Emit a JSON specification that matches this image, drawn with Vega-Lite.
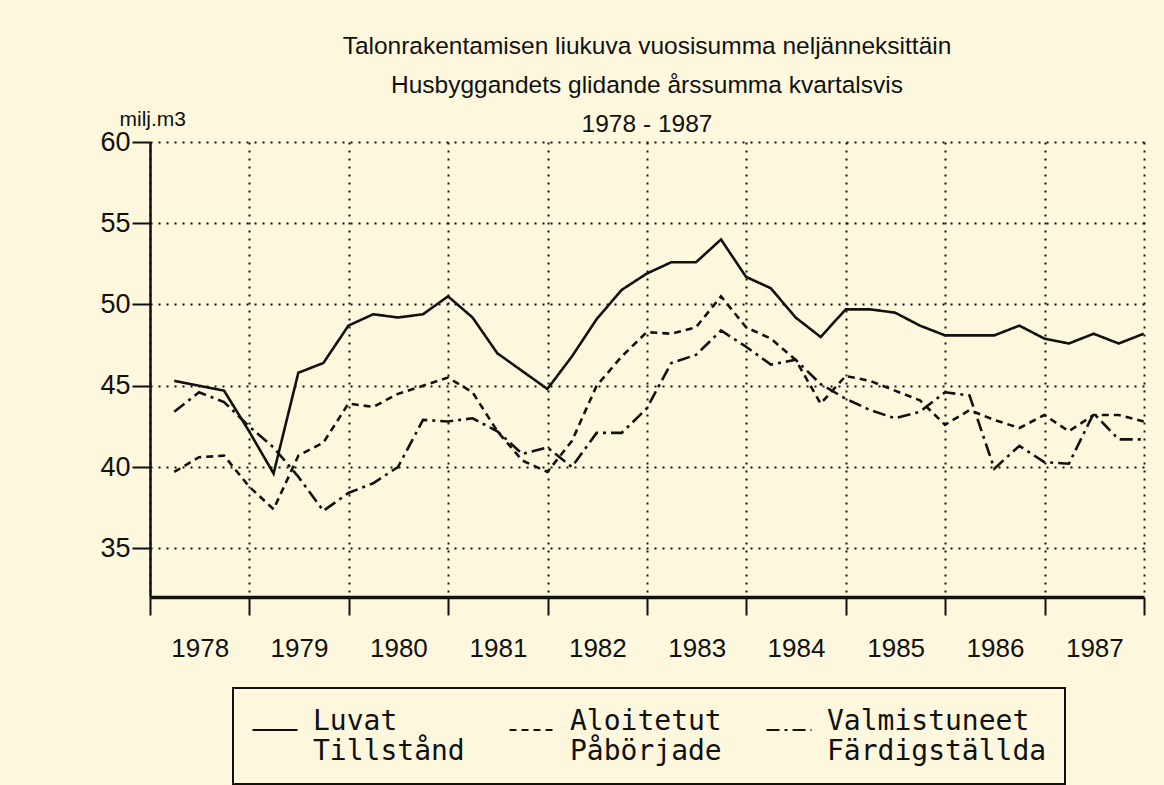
{
  "$schema": "https://vega.github.io/schema/vega-lite/v6.json",
  "width": 994,
  "height": 455,
  "autosize": {"type": "none"},
  "padding": {"left": 150, "top": 142, "right": 20, "bottom": 188},
  "background": "#fdf8dd",
  "title": {
    "text": ["Talonrakentamisen liukuva vuosisumma neljänneksittäin", "Husbyggandets glidande årssumma kvartalsvis", "1978 - 1987"],
    "font": "Liberation Sans",
    "fontSize": 24.5,
    "fontWeight": "normal",
    "color": "#111111",
    "lineHeight": 39,
    "anchor": "middle",
    "frame": "group",
    "offset": -29
  },
  "data": {
    "values": [
      {"aika": "1978-03-31", "sarja": "Luvat", "arvo": 45.3},
      {"aika": "1978-06-30", "sarja": "Luvat", "arvo": 45.0},
      {"aika": "1978-09-30", "sarja": "Luvat", "arvo": 44.7},
      {"aika": "1978-12-31", "sarja": "Luvat", "arvo": 42.2},
      {"aika": "1979-03-31", "sarja": "Luvat", "arvo": 39.6},
      {"aika": "1979-06-30", "sarja": "Luvat", "arvo": 45.8},
      {"aika": "1979-09-30", "sarja": "Luvat", "arvo": 46.4},
      {"aika": "1979-12-31", "sarja": "Luvat", "arvo": 48.7},
      {"aika": "1980-03-31", "sarja": "Luvat", "arvo": 49.4},
      {"aika": "1980-06-30", "sarja": "Luvat", "arvo": 49.2},
      {"aika": "1980-09-30", "sarja": "Luvat", "arvo": 49.4},
      {"aika": "1980-12-31", "sarja": "Luvat", "arvo": 50.5},
      {"aika": "1981-03-31", "sarja": "Luvat", "arvo": 49.2},
      {"aika": "1981-06-30", "sarja": "Luvat", "arvo": 47.0},
      {"aika": "1981-09-30", "sarja": "Luvat", "arvo": 45.9},
      {"aika": "1981-12-31", "sarja": "Luvat", "arvo": 44.8},
      {"aika": "1982-03-31", "sarja": "Luvat", "arvo": 46.8},
      {"aika": "1982-06-30", "sarja": "Luvat", "arvo": 49.1},
      {"aika": "1982-09-30", "sarja": "Luvat", "arvo": 50.9},
      {"aika": "1982-12-31", "sarja": "Luvat", "arvo": 51.9},
      {"aika": "1983-03-31", "sarja": "Luvat", "arvo": 52.6},
      {"aika": "1983-06-30", "sarja": "Luvat", "arvo": 52.6},
      {"aika": "1983-09-30", "sarja": "Luvat", "arvo": 54.0},
      {"aika": "1983-12-31", "sarja": "Luvat", "arvo": 51.7},
      {"aika": "1984-03-31", "sarja": "Luvat", "arvo": 51.0},
      {"aika": "1984-06-30", "sarja": "Luvat", "arvo": 49.2},
      {"aika": "1984-09-30", "sarja": "Luvat", "arvo": 48.0},
      {"aika": "1984-12-31", "sarja": "Luvat", "arvo": 49.7},
      {"aika": "1985-03-31", "sarja": "Luvat", "arvo": 49.7},
      {"aika": "1985-06-30", "sarja": "Luvat", "arvo": 49.5},
      {"aika": "1985-09-30", "sarja": "Luvat", "arvo": 48.7},
      {"aika": "1985-12-31", "sarja": "Luvat", "arvo": 48.1},
      {"aika": "1986-03-31", "sarja": "Luvat", "arvo": 48.1},
      {"aika": "1986-06-30", "sarja": "Luvat", "arvo": 48.1},
      {"aika": "1986-09-30", "sarja": "Luvat", "arvo": 48.7},
      {"aika": "1986-12-31", "sarja": "Luvat", "arvo": 47.9},
      {"aika": "1987-03-31", "sarja": "Luvat", "arvo": 47.6},
      {"aika": "1987-06-30", "sarja": "Luvat", "arvo": 48.2},
      {"aika": "1987-09-30", "sarja": "Luvat", "arvo": 47.6},
      {"aika": "1987-12-31", "sarja": "Luvat", "arvo": 48.2},
      {"aika": "1978-03-31", "sarja": "Aloitetut", "arvo": 39.7},
      {"aika": "1978-06-30", "sarja": "Aloitetut", "arvo": 40.6},
      {"aika": "1978-09-30", "sarja": "Aloitetut", "arvo": 40.7},
      {"aika": "1978-12-31", "sarja": "Aloitetut", "arvo": 38.8},
      {"aika": "1979-03-31", "sarja": "Aloitetut", "arvo": 37.4},
      {"aika": "1979-06-30", "sarja": "Aloitetut", "arvo": 40.7},
      {"aika": "1979-09-30", "sarja": "Aloitetut", "arvo": 41.5},
      {"aika": "1979-12-31", "sarja": "Aloitetut", "arvo": 43.9},
      {"aika": "1980-03-31", "sarja": "Aloitetut", "arvo": 43.7},
      {"aika": "1980-06-30", "sarja": "Aloitetut", "arvo": 44.5},
      {"aika": "1980-09-30", "sarja": "Aloitetut", "arvo": 45.0},
      {"aika": "1980-12-31", "sarja": "Aloitetut", "arvo": 45.5},
      {"aika": "1981-03-31", "sarja": "Aloitetut", "arvo": 44.6},
      {"aika": "1981-06-30", "sarja": "Aloitetut", "arvo": 42.2},
      {"aika": "1981-09-30", "sarja": "Aloitetut", "arvo": 40.4},
      {"aika": "1981-12-31", "sarja": "Aloitetut", "arvo": 39.7},
      {"aika": "1982-03-31", "sarja": "Aloitetut", "arvo": 41.6},
      {"aika": "1982-06-30", "sarja": "Aloitetut", "arvo": 45.0},
      {"aika": "1982-09-30", "sarja": "Aloitetut", "arvo": 46.8},
      {"aika": "1982-12-31", "sarja": "Aloitetut", "arvo": 48.3},
      {"aika": "1983-03-31", "sarja": "Aloitetut", "arvo": 48.2},
      {"aika": "1983-06-30", "sarja": "Aloitetut", "arvo": 48.6},
      {"aika": "1983-09-30", "sarja": "Aloitetut", "arvo": 50.5},
      {"aika": "1983-12-31", "sarja": "Aloitetut", "arvo": 48.6},
      {"aika": "1984-03-31", "sarja": "Aloitetut", "arvo": 47.9},
      {"aika": "1984-06-30", "sarja": "Aloitetut", "arvo": 46.6},
      {"aika": "1984-09-30", "sarja": "Aloitetut", "arvo": 43.9},
      {"aika": "1984-12-31", "sarja": "Aloitetut", "arvo": 45.6},
      {"aika": "1985-03-31", "sarja": "Aloitetut", "arvo": 45.3},
      {"aika": "1985-06-30", "sarja": "Aloitetut", "arvo": 44.7},
      {"aika": "1985-09-30", "sarja": "Aloitetut", "arvo": 44.1},
      {"aika": "1985-12-31", "sarja": "Aloitetut", "arvo": 42.6},
      {"aika": "1986-03-31", "sarja": "Aloitetut", "arvo": 43.5},
      {"aika": "1986-06-30", "sarja": "Aloitetut", "arvo": 42.9},
      {"aika": "1986-09-30", "sarja": "Aloitetut", "arvo": 42.4},
      {"aika": "1986-12-31", "sarja": "Aloitetut", "arvo": 43.2},
      {"aika": "1987-03-31", "sarja": "Aloitetut", "arvo": 42.2},
      {"aika": "1987-06-30", "sarja": "Aloitetut", "arvo": 43.2},
      {"aika": "1987-09-30", "sarja": "Aloitetut", "arvo": 43.2},
      {"aika": "1987-12-31", "sarja": "Aloitetut", "arvo": 42.8},
      {"aika": "1978-03-31", "sarja": "Valmistuneet", "arvo": 43.4},
      {"aika": "1978-06-30", "sarja": "Valmistuneet", "arvo": 44.6},
      {"aika": "1978-09-30", "sarja": "Valmistuneet", "arvo": 44.0},
      {"aika": "1978-12-31", "sarja": "Valmistuneet", "arvo": 42.5},
      {"aika": "1979-03-31", "sarja": "Valmistuneet", "arvo": 41.2},
      {"aika": "1979-06-30", "sarja": "Valmistuneet", "arvo": 39.4},
      {"aika": "1979-09-30", "sarja": "Valmistuneet", "arvo": 37.3},
      {"aika": "1979-12-31", "sarja": "Valmistuneet", "arvo": 38.4},
      {"aika": "1980-03-31", "sarja": "Valmistuneet", "arvo": 39.0},
      {"aika": "1980-06-30", "sarja": "Valmistuneet", "arvo": 40.0},
      {"aika": "1980-09-30", "sarja": "Valmistuneet", "arvo": 42.9},
      {"aika": "1980-12-31", "sarja": "Valmistuneet", "arvo": 42.8},
      {"aika": "1981-03-31", "sarja": "Valmistuneet", "arvo": 43.0},
      {"aika": "1981-06-30", "sarja": "Valmistuneet", "arvo": 42.2},
      {"aika": "1981-09-30", "sarja": "Valmistuneet", "arvo": 40.8},
      {"aika": "1981-12-31", "sarja": "Valmistuneet", "arvo": 41.2},
      {"aika": "1982-03-31", "sarja": "Valmistuneet", "arvo": 40.0},
      {"aika": "1982-06-30", "sarja": "Valmistuneet", "arvo": 42.1},
      {"aika": "1982-09-30", "sarja": "Valmistuneet", "arvo": 42.1},
      {"aika": "1982-12-31", "sarja": "Valmistuneet", "arvo": 43.6},
      {"aika": "1983-03-31", "sarja": "Valmistuneet", "arvo": 46.4},
      {"aika": "1983-06-30", "sarja": "Valmistuneet", "arvo": 46.9},
      {"aika": "1983-09-30", "sarja": "Valmistuneet", "arvo": 48.4},
      {"aika": "1983-12-31", "sarja": "Valmistuneet", "arvo": 47.4},
      {"aika": "1984-03-31", "sarja": "Valmistuneet", "arvo": 46.3},
      {"aika": "1984-06-30", "sarja": "Valmistuneet", "arvo": 46.6},
      {"aika": "1984-09-30", "sarja": "Valmistuneet", "arvo": 45.1},
      {"aika": "1984-12-31", "sarja": "Valmistuneet", "arvo": 44.2},
      {"aika": "1985-03-31", "sarja": "Valmistuneet", "arvo": 43.5},
      {"aika": "1985-06-30", "sarja": "Valmistuneet", "arvo": 43.0},
      {"aika": "1985-09-30", "sarja": "Valmistuneet", "arvo": 43.4},
      {"aika": "1985-12-31", "sarja": "Valmistuneet", "arvo": 44.6},
      {"aika": "1986-03-31", "sarja": "Valmistuneet", "arvo": 44.4},
      {"aika": "1986-06-30", "sarja": "Valmistuneet", "arvo": 39.9},
      {"aika": "1986-09-30", "sarja": "Valmistuneet", "arvo": 41.3},
      {"aika": "1986-12-31", "sarja": "Valmistuneet", "arvo": 40.3},
      {"aika": "1987-03-31", "sarja": "Valmistuneet", "arvo": 40.2},
      {"aika": "1987-06-30", "sarja": "Valmistuneet", "arvo": 43.3},
      {"aika": "1987-09-30", "sarja": "Valmistuneet", "arvo": 41.7},
      {"aika": "1987-12-31", "sarja": "Valmistuneet", "arvo": 41.7}
    ]
  },
  "mark": {"type": "line", "strokeWidth": 2.6, "color": "#111111"},
  "encoding": {
    "x": {
      "field": "aika",
      "type": "temporal",
      "scale": {
        "type": "utc",
        "domain": [{"year": 1978, "month": 1, "date": 1, "utc": true}, {"year": 1988, "month": 1, "date": 1, "utc": true}]
      },
      "axis": {
        "title": null,
        "values": [
          {"year": 1978, "month": 1, "date": 1, "utc": true},
          {"year": 1979, "month": 1, "date": 1, "utc": true},
          {"year": 1980, "month": 1, "date": 1, "utc": true},
          {"year": 1981, "month": 1, "date": 1, "utc": true},
          {"year": 1982, "month": 1, "date": 1, "utc": true},
          {"year": 1983, "month": 1, "date": 1, "utc": true},
          {"year": 1984, "month": 1, "date": 1, "utc": true},
          {"year": 1985, "month": 1, "date": 1, "utc": true},
          {"year": 1986, "month": 1, "date": 1, "utc": true},
          {"year": 1987, "month": 1, "date": 1, "utc": true},
          {"year": 1988, "month": 1, "date": 1, "utc": true}
        ],
        "labelExpr": "utcyear(datum.value) < 1988 ? utcFormat(datum.value, '%Y') : ''",
        "labelOffset": 49.7,
        "labelFont": "Liberation Sans",
        "labelFontSize": 26,
        "labelColor": "#111111",
        "labelPadding": 20,
        "labelOverlap": false,
        "labelFlush": false,
        "labelBound": false,
        "tickSize": 18,
        "tickWidth": 2,
        "tickColor": "#111111",
        "domainWidth": 3.5,
        "domainColor": "#111111",
        "grid": true,
        "gridDash": [2, 6],
        "gridColor": "#111111",
        "gridWidth": 2,
        "gridOpacity": 1
      }
    },
    "y": {
      "field": "arvo",
      "type": "quantitative",
      "scale": {"domain": [32, 60], "nice": false, "zero": false},
      "axis": {
        "values": [35, 40, 45, 50, 55, 60],
        "title": "milj.m3",
        "titleAngle": 0,
        "titleX": -31,
        "titleY": -17,
        "titleAlign": "left",
        "titleBaseline": "alphabetic",
        "titleFont": "Liberation Sans",
        "titleFontSize": 21,
        "titleFontWeight": "normal",
        "titleColor": "#111111",
        "labelFont": "Liberation Sans",
        "labelFontSize": 27,
        "labelColor": "#111111",
        "labelPadding": 2,
        "tickSize": 18,
        "tickWidth": 2,
        "tickColor": "#111111",
        "domainWidth": 2.5,
        "domainColor": "#111111",
        "grid": true,
        "gridDash": [2, 6],
        "gridColor": "#111111",
        "gridWidth": 2,
        "gridOpacity": 1
      }
    },
    "strokeDash": {
      "field": "sarja",
      "type": "nominal",
      "scale": {
        "domain": ["Luvat", "Aloitetut", "Valmistuneet"],
        "range": [[1, 0], [7, 5], [13, 5, 3, 5]]
      },
      "legend": {
        "orient": "none",
        "legendX": 83,
        "legendY": 546,
        "direction": "horizontal",
        "columns": 3,
        "title": null,
        "symbolType": "stroke",
        "symbolSize": 2025,
        "symbolStrokeWidth": 2.2,
        "symbolStrokeColor": "#111111",
        "labelFont": "DejaVu Sans Mono",
        "labelFontSize": 28,
        "labelColor": "#111111",
        "labelBaseline": "alphabetic",
        "labelOffset": 14,
        "labelLimit": 500,
        "labelExpr": "datum.label == 'Luvat' ? ['Luvat', 'Tillstånd'] : datum.label == 'Aloitetut' ? ['Aloitetut', 'Påbörjade'] : ['Valmistuneet', 'Färdigställda']",
        "columnPadding": 40,
        "padding": 18,
        "strokeColor": "#111111"
      }
    }
  },
  "config": {
    "view": {"stroke": null},
    "legend": {"strokeWidth": 2}
  }
}
